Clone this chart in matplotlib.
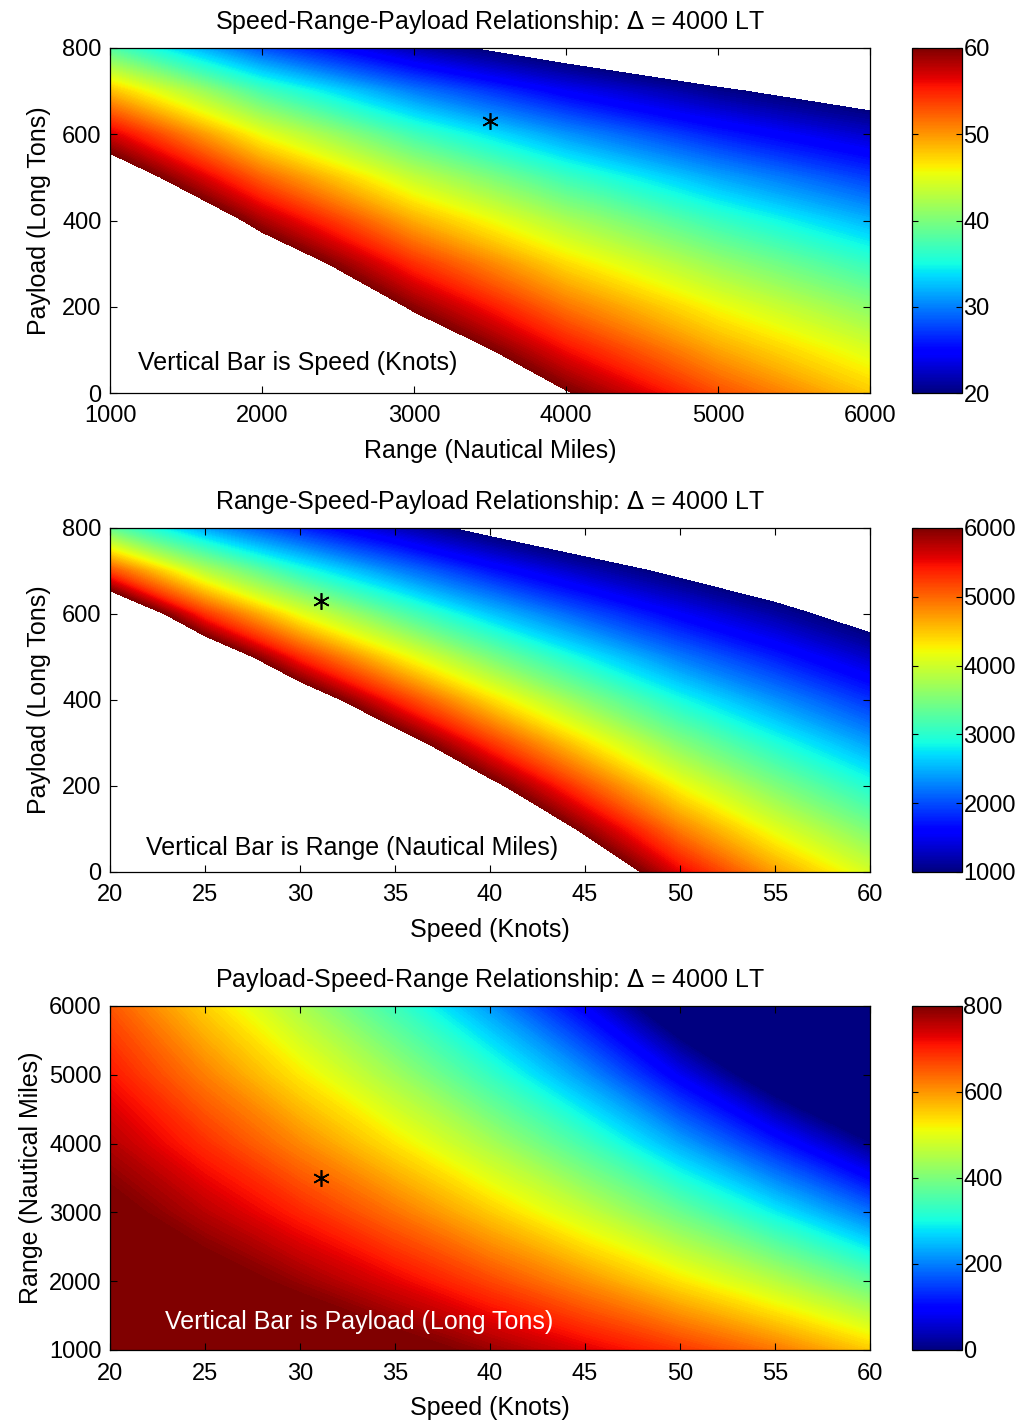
import numpy as np
import matplotlib
matplotlib.use("Agg")
import matplotlib.pyplot as plt
from matplotlib.colors import Normalize
from matplotlib.cm import ScalarMappable

plt.rcParams['font.family'] = ['Liberation Sans', 'DejaVu Sans']

# ---------------- data ----------------
speed_grid = [20, 25, 30, 35, 40, 45, 50, 55, 60]                 # knots
range_grid = [1000, 2000, 3000, 4000, 5000, 6000]                 # nautical miles
payload_grid = [0, 100, 200, 300, 400, 500, 600, 700, 800]        # long tons

# Panel 1: speed (knots); rows = payload_grid, cols = range_grid
speed_by_range_payload = [
    [99.2, 81.9, 69.6, 60.3, 53.1, 47.8],
    [92.1, 76.1, 64.5, 55.8, 49.3, 44.5],
    [85.1, 70.2, 59.4, 51.4, 45.6, 40.7],
    [78.0, 64.3, 54.4, 47.0, 41.3, 36.5],
    [71.0, 58.4, 49.0, 42.2, 36.6, 32.0],
    [63.9, 52.2, 43.4, 36.8, 31.5, 27.3],
    [56.9, 45.3, 37.0, 30.8, 26.0, 22.6],
    [48.3, 37.3, 29.8, 24.3, 20.5, 17.8],
    [37.8, 28.0, 21.5, 17.5, 14.9, 13.1],
]

# Panel 2: range (nm); rows = payload_grid, cols = speed_grid
range_by_speed_payload = [
    [17978, 13843, 11236, 9429, 7940, 6665, 5535, 4701, 4032],
    [16147, 12414, 10054, 8408, 7050, 5892, 4871, 4111, 3487],
    [14315, 10986, 8872, 7388, 6161, 5119, 4207, 3521, 2941],
    [12484, 9557, 7690, 6367, 5271, 4346, 3543, 2930, 2396],
    [10652, 8129, 6508, 5347, 4381, 3574, 2879, 2340, 1851],
    [8821, 6700, 5326, 4327, 3491, 2801, 2215, 1750, 1306],
    [6989, 5271, 4144, 3306, 2601, 2028, 1551, 1160, 760],
    [5158, 3843, 2962, 2286, 1712, 1255, 887, 569, 215],
    [3326, 2414, 1780, 1265, 822, 482, 223, -21, -331],
]

# Panel 3: payload (LT); rows = range_grid, cols = speed_grid
payload_by_speed_range = [
    [927, 899, 866, 826, 780, 733, 683, 627, 556],
    [872, 829, 781, 728, 668, 604, 532, 458, 373],
    [818, 759, 697, 630, 555, 474, 382, 288, 189],
    [763, 689, 612, 532, 443, 345, 231, 119, 6],
    [709, 619, 528, 434, 330, 215, 81, -51, -178],
    [654, 549, 443, 336, 218, 86, -70, -220, -361],
]

# design point
design_speed = 31.1
design_range = 3500
design_payload = 631

titles = [
    "Speed-Range-Payload Relationship: $\\Delta$ = 4000 LT",
    "Range-Speed-Payload Relationship: $\\Delta$ = 4000 LT",
    "Payload-Speed-Range Relationship: $\\Delta$ = 4000 LT",
]
notes = [
    "Vertical Bar is Speed (Knots)",
    "Vertical Bar is Range (Nautical Miles)",
    "Vertical Bar is Payload (Long Tons)",
]

# ---------------- figure ----------------
FS = 18      # titles, labels, notes
TS = 17      # tick labels
fig = plt.figure(figsize=(10.24, 14.2), dpi=100)
W, H = 1024.0, 1420.0

def ax_rect(l, t, r, b):
    return [l / W, 1 - b / H, (r - l) / W, (b - t) / H]

main_rects = [ax_rect(110, 48, 870, 393), ax_rect(110, 528, 870, 872), ax_rect(110, 1006, 870, 1350)]
cbar_rects = [ax_rect(912, 48, 962, 393), ax_rect(912, 528, 962, 872), ax_rect(912, 1006, 962, 1350)]

cmap = plt.get_cmap('jet')
star = dict(marker=(6, 2, 0), color='black', markersize=12, markeredgewidth=1.2,
            linestyle='none')

def style_axes(ax):
    ax.tick_params(direction='in', top=True, right=True, length=5, width=0.8,
                   labelsize=TS)
    ax.tick_params(axis='x', pad=9)
    ax.tick_params(axis='y', pad=6)
    for s in ax.spines.values():
        s.set_linewidth(0.9)

def style_cbar(cax, ticks):
    cax.tick_params(direction='in', length=4, width=0.8, labelsize=TS, pad=1,
                    left=True, right=True)
    cax.set_yticks(ticks)
    for s in cax.spines.values():
        s.set_linewidth(0.9)

# ---- Panel 1 ----
ax1 = fig.add_axes(main_rects[0])
R, P = np.meshgrid(range_grid, payload_grid)
lev1 = np.linspace(20, 60, 161)
ax1.contourf(R, P, np.array(speed_by_range_payload), levels=lev1, cmap=cmap)
ax1.plot([design_range], [design_payload], **star)
ax1.set_xlim(1000, 6000)
ax1.set_ylim(0, 800)
ax1.set_xticks([1000, 2000, 3000, 4000, 5000, 6000])
ax1.set_yticks([0, 200, 400, 600, 800])
ax1.set_xlabel("Range (Nautical Miles)", fontsize=FS, labelpad=8)
ax1.set_ylabel("Payload (Long Tons)", fontsize=FS, labelpad=8)
ax1.set_title(titles[0], fontsize=FS, pad=14)
ax1.text(0.037, 0.087, notes[0], transform=ax1.transAxes, fontsize=FS,
         color='black', va='center', ha='left')
style_axes(ax1)
cax1 = fig.add_axes(cbar_rects[0])
fig.colorbar(ScalarMappable(norm=Normalize(20, 60), cmap=cmap), cax=cax1)
style_cbar(cax1, [20, 30, 40, 50, 60])

# ---- Panel 2 ----
ax2 = fig.add_axes(main_rects[1])
V, P2 = np.meshgrid(speed_grid, payload_grid)
lev2 = np.linspace(1000, 6000, 161)
ax2.contourf(V, P2, np.array(range_by_speed_payload), levels=lev2, cmap=cmap)
ax2.plot([design_speed], [design_payload], **star)
ax2.set_xlim(20, 60)
ax2.set_ylim(0, 800)
ax2.set_xticks([20, 25, 30, 35, 40, 45, 50, 55, 60])
ax2.set_yticks([0, 200, 400, 600, 800])
ax2.set_xlabel("Speed (Knots)", fontsize=FS, labelpad=8)
ax2.set_ylabel("Payload (Long Tons)", fontsize=FS, labelpad=8)
ax2.set_title(titles[1], fontsize=FS, pad=14)
ax2.text(0.047, 0.07, notes[1], transform=ax2.transAxes, fontsize=FS,
         color='black', va='center', ha='left')
style_axes(ax2)
cax2 = fig.add_axes(cbar_rects[1])
fig.colorbar(ScalarMappable(norm=Normalize(1000, 6000), cmap=cmap), cax=cax2)
style_cbar(cax2, [1000, 2000, 3000, 4000, 5000, 6000])

# ---- Panel 3 ----
ax3 = fig.add_axes(main_rects[2])
V3, R3 = np.meshgrid(speed_grid, range_grid)
lev3 = np.linspace(0, 800, 161)
ax3.contourf(V3, R3, np.array(payload_by_speed_range), levels=lev3, cmap=cmap,
             extend='both')
ax3.plot([design_speed], [design_range], **star)
ax3.set_xlim(20, 60)
ax3.set_ylim(1000, 6000)
ax3.set_xticks([20, 25, 30, 35, 40, 45, 50, 55, 60])
ax3.set_yticks([1000, 2000, 3000, 4000, 5000, 6000])
ax3.set_xlabel("Speed (Knots)", fontsize=FS, labelpad=8)
ax3.set_ylabel("Range (Nautical Miles)", fontsize=FS, labelpad=4)
ax3.set_title(titles[2], fontsize=FS, pad=14)
ax3.text(0.072, 0.081, notes[2], transform=ax3.transAxes, fontsize=FS,
         color='white', va='center', ha='left')
style_axes(ax3)
cax3 = fig.add_axes(cbar_rects[2])
fig.colorbar(ScalarMappable(norm=Normalize(0, 800), cmap=cmap), cax=cax3)
style_cbar(cax3, [0, 200, 400, 600, 800])

fig.savefig("out.png", dpi=100, facecolor='white')
